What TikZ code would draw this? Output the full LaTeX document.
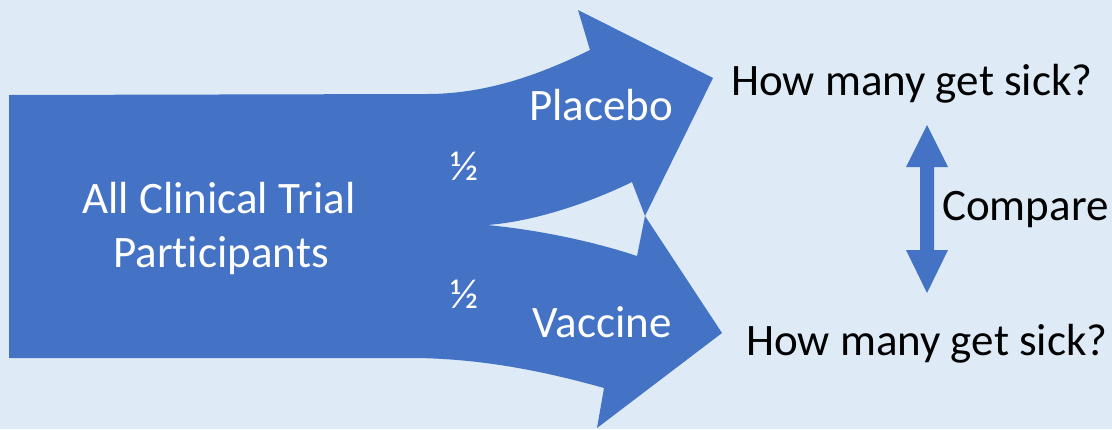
\documentclass[tikz,border=0pt]{standalone}
\usepackage{fontspec}
\setmainfont[Ligatures={NoCommon}]{Carlito}
\definecolor{bg}{HTML}{DEEBF7}
\definecolor{arr}{HTML}{4472C4}
\tikzset{
  big/.style={font=\fontsize{45}{54}\selectfont, inner sep=0pt},
  wtext/.style={big, text=white, align=center},
  btext/.style={big, text=black},
  halfs/.style={font=\fontsize{42}{50}\selectfont, inner sep=0pt, text=white},
}
\begin{document}
\begin{tikzpicture}[x=1pt,y=-1pt]
\fill[bg] (0,0) rectangle (1112,429);
\useasboundingbox (0,0) rectangle (1112,429);
% split arrow shape
\fill[arr] (9,95) -- (427,94) .. controls (490,94) and (545,72) .. (590,50)
  -- (578,10) -- (713,78) -- (645,216) -- (632,182)
  .. controls (585,205) and (530,222) .. (487,225)
  .. controls (540,230) and (595,242) .. (637,256)
  -- (645,216) -- (722,333) -- (597,428) -- (604,388)
  .. controls (540,370) and (480,359) .. (417,358) -- (9,358) -- cycle;
% double arrow
\fill[arr] (927,125) -- (948,167) -- (934,167) -- (934,250) -- (948,250)
  -- (927,293) -- (906,250) -- (920,250) -- (920,167) -- (906,167) -- cycle;
% texts
\node[wtext, anchor=base] (all1) at (219,213) {All Clinical Trial};
\node[wtext, anchor=base] (all2) at (221,267) {Participants};
\node[wtext, anchor=base] (placebo) at (601,120) {Placebo};
\node[wtext, anchor=base] (vaccine) at (602,337) {Vaccine};
\node[halfs, anchor=center] (half1) at (465,166) {½};
\node[halfs, anchor=center] (half2) at (465,294) {½};
\node[btext, anchor=base west] (sick1) at (731,95) {How many get sick?};
\node[btext, anchor=base west] (sick2) at (746,355) {How many get sick?};
\node[btext, anchor=base west] (compare) at (942,220) {Compare};
\end{tikzpicture}
\end{document}
